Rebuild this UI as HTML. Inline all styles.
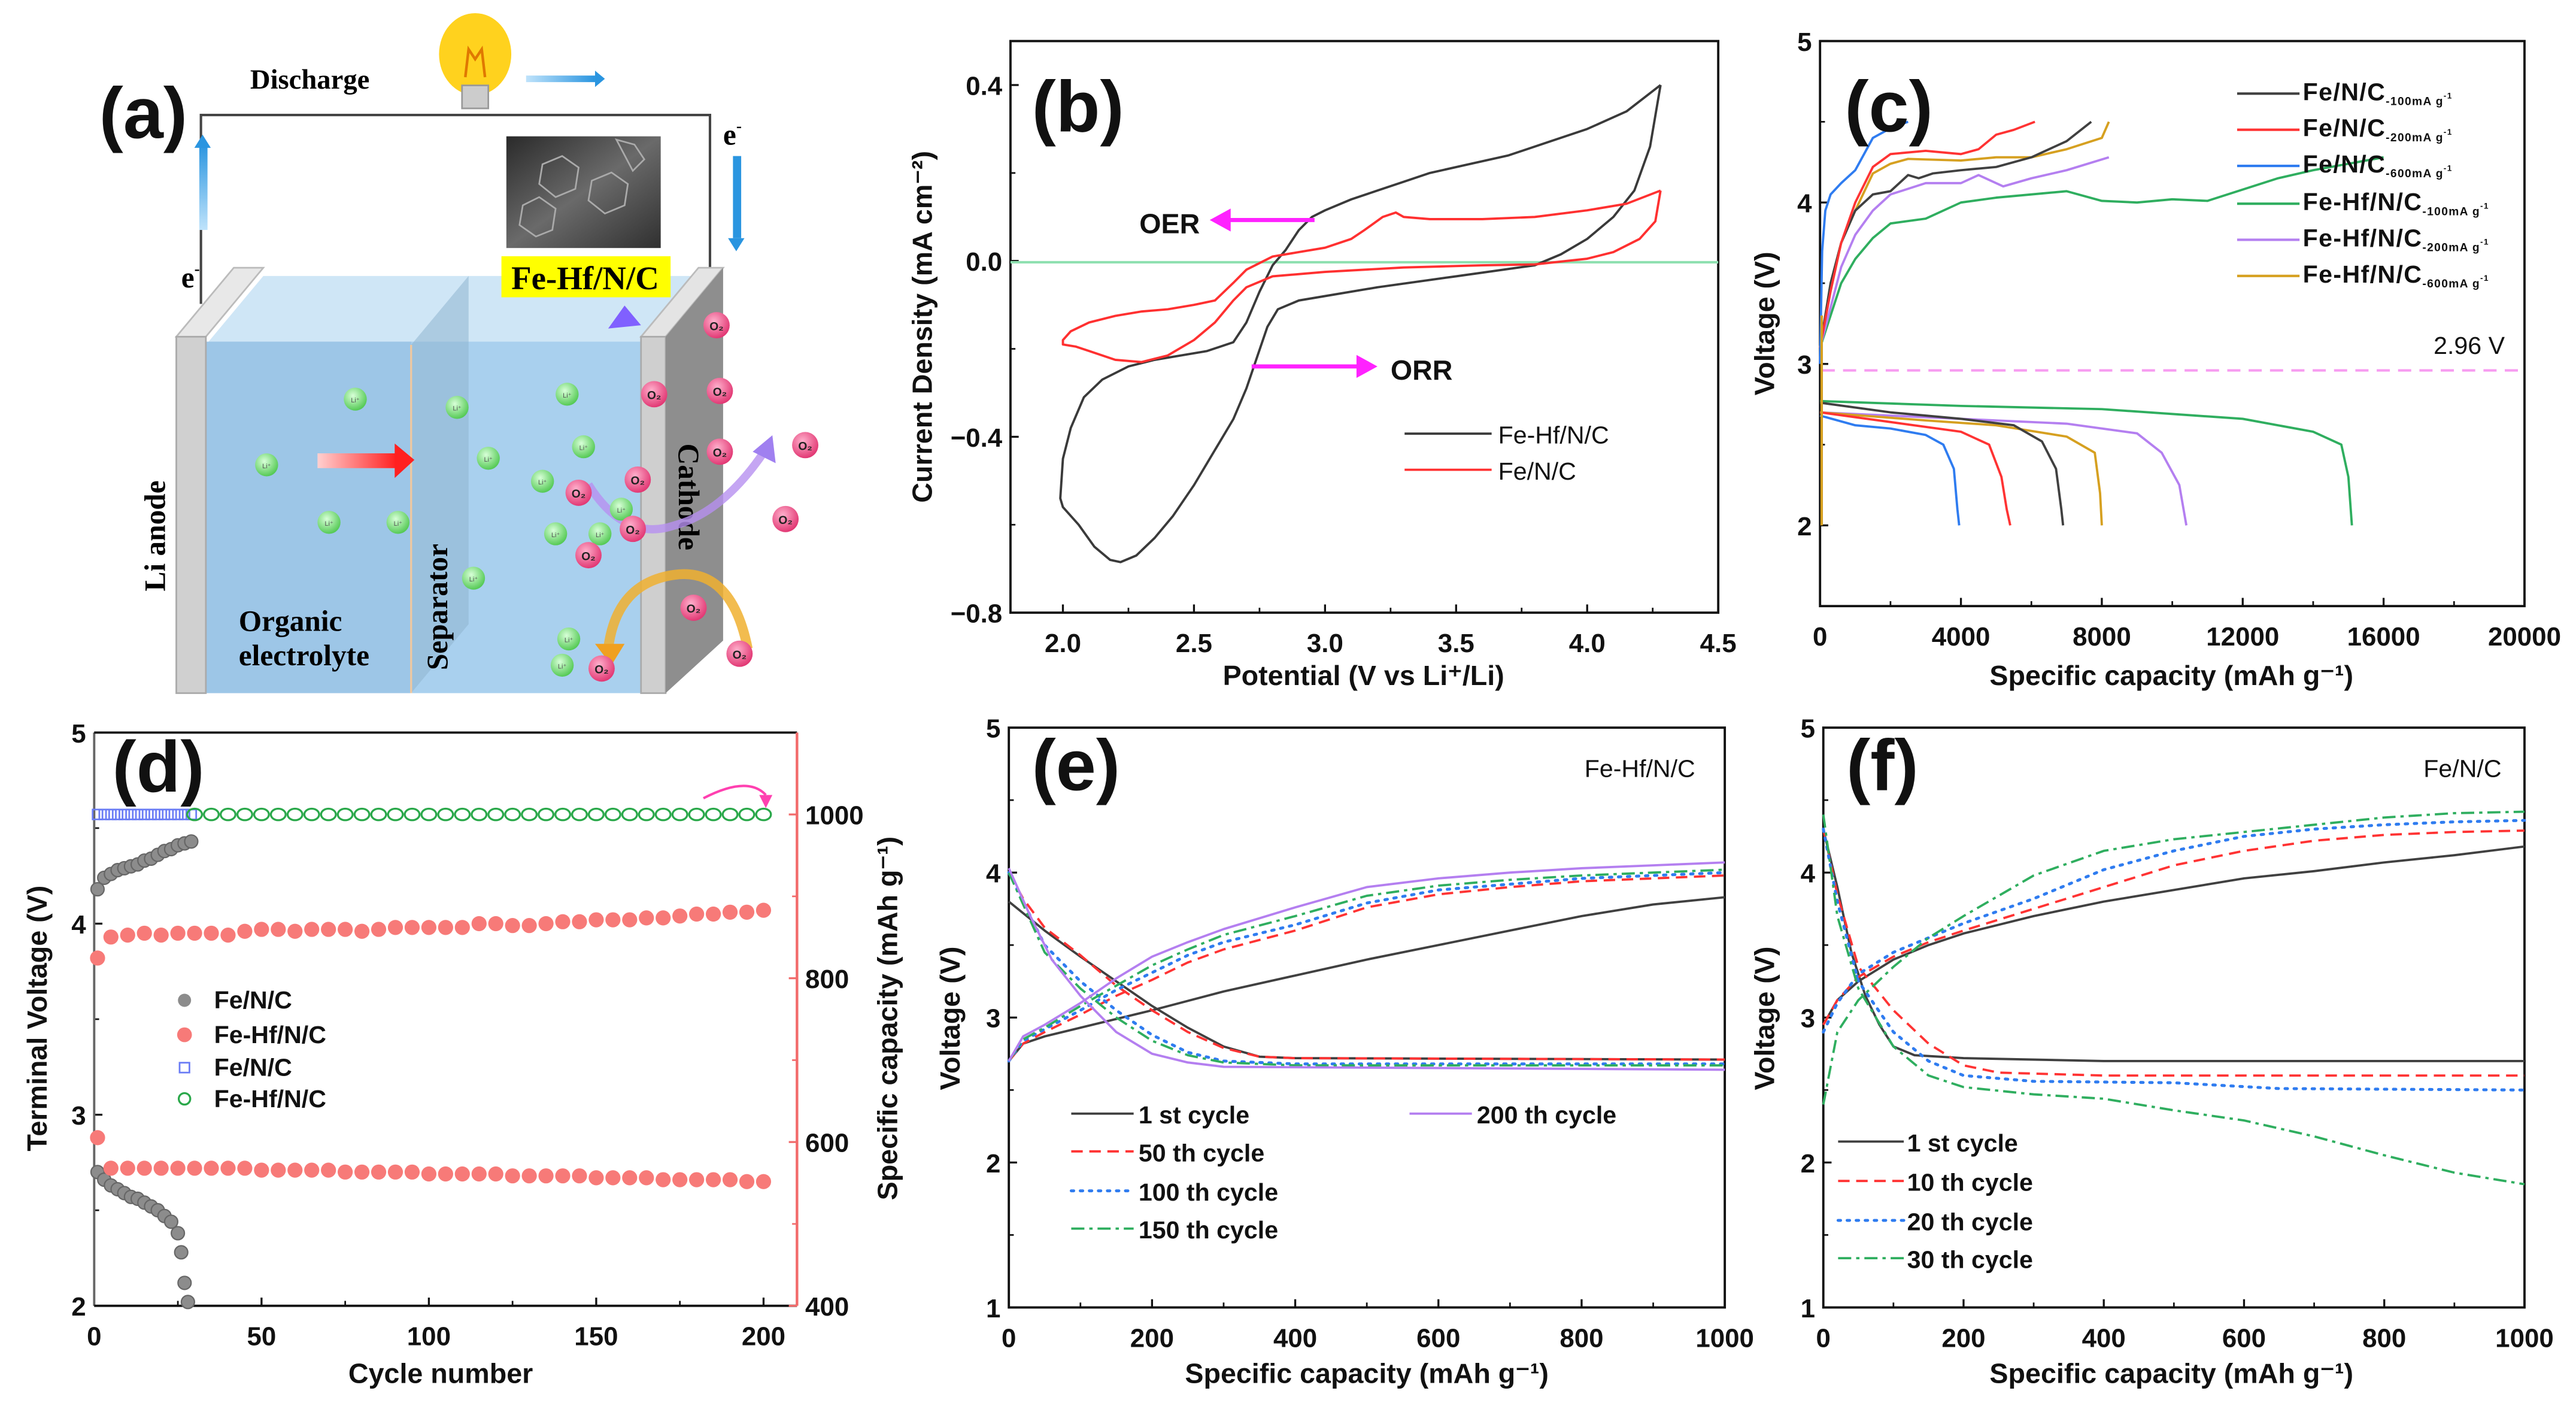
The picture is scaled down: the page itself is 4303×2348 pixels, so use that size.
<!DOCTYPE html>
<html><head><meta charset="utf-8"><title>Fe-Hf/N/C Li-O2 battery figure</title>
<style>
html,body{margin:0;padding:0;background:#fff;}
svg{display:block;font-family:"Liberation Sans",Arial,sans-serif;}
.tk{font-size:16px;font-weight:bold;fill:#111;}
.ttl{font-size:17px;font-weight:bold;fill:#111;}
.pl{font-size:44px;font-weight:bold;fill:#111;}
.lg{font-size:15px;fill:#111;}
.ser{font-family:"Liberation Serif",serif;font-weight:bold;}
</style></head>
<body>
<svg id="fig" xmlns="http://www.w3.org/2000/svg" viewBox="0 0 1568 856" width="4303" height="2348">
<defs>
<linearGradient id="blueArr" x1="0" y1="1" x2="0" y2="0"><stop offset="0" stop-color="#bfe3fb"/><stop offset="1" stop-color="#2a95e0"/></linearGradient>
<linearGradient id="blueArrH" x1="0" y1="0" x2="1" y2="0"><stop offset="0" stop-color="#bfe3fb"/><stop offset="1" stop-color="#2a95e0"/></linearGradient>
<linearGradient id="redArr" x1="0" y1="0" x2="1" y2="0"><stop offset="0" stop-color="#ffd0d0"/><stop offset="1" stop-color="#ff2020"/></linearGradient>
<radialGradient id="gball" cx="0.4" cy="0.35" r="0.7"><stop offset="0" stop-color="#d8ffd8"/><stop offset="1" stop-color="#4cc64c"/></radialGradient>
<radialGradient id="pball" cx="0.4" cy="0.35" r="0.7"><stop offset="0" stop-color="#ffb0cc"/><stop offset="1" stop-color="#e0306e"/></radialGradient>
<linearGradient id="sem" x1="0" y1="0" x2="1" y2="1"><stop offset="0" stop-color="#2a2a2a"/><stop offset="0.5" stop-color="#6a6a6a"/><stop offset="1" stop-color="#303030"/></linearGradient>
</defs>

<!-- ===== Panel (a) schematic ===== -->
<g>
  <text x="60" y="84" class="pl">(a)</text>
  <text x="152" y="54" class="ser" font-size="17">Discharge</text>
  <polyline points="122,185 122,70 432,70 432,180" fill="none" stroke="#444" stroke-width="1.5"/>
  <g>
    <ellipse cx="289" cy="33" rx="22" ry="25" fill="#ffd21e"/>
    <rect x="281" y="52" width="16" height="14" fill="#ccc" stroke="#999"/>
    <path d="M283 47 L285 30 L289 36 L293 30 L295 47" fill="none" stroke="#e07800" stroke-width="1.6"/>
  </g>
  <rect x="320" y="46" width="42" height="4" fill="url(#blueArrH)"/>
  <polygon points="362,43 368,48 362,53" fill="#2a95e0"/>
  <rect x="121" y="88" width="5" height="52" fill="url(#blueArr)"/>
  <polygon points="118,90 123,82 128,90" fill="#2a95e0"/>
  <rect x="446" y="95" width="5" height="50" fill="#2a95e0"/>
  <polygon points="443,145 448,153 453,145" fill="#2a95e0"/>
  <text x="110" y="175" class="ser" font-size="18">e<tspan font-size="10" dy="-8">-</tspan></text>
  <text x="440" y="88" class="ser" font-size="18">e<tspan font-size="10" dy="-8">-</tspan></text>
  <rect x="308" y="83" width="94" height="68" fill="url(#sem)"/>
  <g stroke="#aaa" stroke-width="1" fill="none">
    <polygon points="330,100 342,95 352,102 350,115 338,120 328,112"/>
    <polygon points="360,110 372,105 382,112 380,125 368,130 358,122"/>
    <polygon points="318,125 328,120 338,127 336,140 326,144 316,137"/>
    <polygon points="375,85 386,88 392,97 385,104"/>
  </g>
  <!-- cell -->
  <polygon points="125,210 160,168 435,168 400,210" fill="#cfe6f6"/>
  <rect x="125" y="208" width="275" height="214" fill="#a9d0ee"/>
  <rect x="125" y="208" width="125" height="214" fill="#98c2e4" opacity="0.7"/>
  <polygon points="250,210 285,168 285,380 250,422" fill="#8fb5d0" opacity="0.55"/>
  <line x1="250" y1="210" x2="250" y2="422" stroke="#f0c8a0" stroke-width="1.2"/>
  <polygon points="107,205 142,163 160,163 125,205" fill="#e8e8e8" stroke="#bbb"/>
  <rect x="107" y="205" width="18" height="217" fill="#d0d0d0" stroke="#aaa"/>
  <polygon points="390,205 425,163 440,163 405,205" fill="#e4e4e4" stroke="#bbb"/>
  <rect x="390" y="205" width="15" height="217" fill="#cfcfcf" stroke="#aaa"/>
  <polygon points="405,205 440,163 440,390 405,422" fill="#8e8e8e"/>
  <rect x="305" y="156" width="103" height="25" fill="#ffff00"/>
  <text x="356" y="176" text-anchor="middle" class="ser" font-size="20">Fe-Hf/N/C</text>
  <text transform="translate(100,360) rotate(-90)" class="ser" font-size="18">Li anode</text>
  <text transform="translate(272,408) rotate(-90)" class="ser" font-size="18">Separator</text>
  <text transform="translate(413,270) rotate(90)" class="ser" font-size="18">Cathode</text>
  <text x="145" y="384" class="ser" font-size="18">Organic</text>
  <text x="145" y="405" class="ser" font-size="18">electrolyte</text>
  <rect x="193" y="276" width="48" height="9" fill="url(#redArr)"/>
  <polygon points="240,270 252,280 240,291" fill="#ff2020"/>
  <polygon points="370,200 380,186 390,198" fill="#8060ff"/>
  <path d="M358,295 Q380,330 410,320 Q440,312 465,275" fill="none" stroke="#b690f0" stroke-width="5" opacity="0.8"/>
  <polygon points="458,275 470,265 472,282" fill="#a080f0"/>
  <path d="M455,395 Q445,345 410,350 Q375,355 370,395" fill="none" stroke="#f0b030" stroke-width="6" opacity="0.85"/>
  <polygon points="362,392 372,405 380,392" fill="#f0a020"/>
  <g id="ions"></g>
</g>

<g id="plots"></g>
</svg>

<script>
// ===================== DATA =====================
// Panel (b) CV curves: potential (V) / current density (mA cm-2)
const cvHfX = [4.28,4.15,4.0,3.85,3.7,3.55,3.4,3.3,3.2,3.1,3.0,2.95,2.9,2.85,2.8,2.75,2.7,2.65,2.55,2.45,2.35,2.25,2.15,2.08,2.03,2.0,1.99,2.0,2.06,2.12,2.18,2.22,2.28,2.35,2.42,2.5,2.58,2.65,2.7,2.74,2.78,2.82,2.9,3.0,3.2,3.5,3.8,3.9,4.0,4.1,4.18,4.24,4.28];
const cvHfY = [0.40,0.34,0.30,0.27,0.24,0.22,0.20,0.18,0.16,0.14,0.115,0.10,0.07,0.025,-0.01,-0.07,-0.14,-0.185,-0.205,-0.215,-0.225,-0.24,-0.27,-0.31,-0.38,-0.45,-0.54,-0.56,-0.6,-0.65,-0.68,-0.685,-0.67,-0.63,-0.58,-0.51,-0.43,-0.36,-0.29,-0.22,-0.15,-0.11,-0.09,-0.08,-0.06,-0.035,-0.01,0.015,0.05,0.1,0.16,0.26,0.40];
const cvFeX = [4.28,4.15,4.0,3.8,3.6,3.4,3.3,3.27,3.22,3.15,3.1,3.0,2.9,2.8,2.75,2.7,2.65,2.58,2.5,2.4,2.3,2.2,2.1,2.03,2.0,2.0,2.05,2.1,2.2,2.3,2.4,2.5,2.58,2.65,2.7,2.8,3.0,3.3,3.6,3.8,4.0,4.1,4.2,4.26,4.28];
const cvFeY = [0.16,0.13,0.115,0.10,0.095,0.095,0.10,0.11,0.10,0.07,0.05,0.03,0.02,0.01,-0.005,-0.02,-0.05,-0.09,-0.10,-0.11,-0.115,-0.125,-0.14,-0.16,-0.18,-0.19,-0.195,-0.205,-0.225,-0.23,-0.215,-0.18,-0.14,-0.09,-0.06,-0.035,-0.025,-0.015,-0.01,-0.008,0.005,0.02,0.05,0.09,0.16];

// Panel (c) charge/discharge at different current densities
const cSeriesNames = ["Fe/N/C 100","Fe/N/C 200","Fe/N/C 600","Fe-Hf/N/C 100","Fe-Hf/N/C 200","Fe-Hf/N/C 600"];
const cChargeCap = [
 [0,300,600,1000,1500,2000,2500,2800,3200,4000,5000,6000,7000,7700],
 [0,300,600,1000,1500,2000,3000,4000,4500,5000,5500,6100],
 [0,60,150,300,600,1000,1500,2000,2500],
 [0,300,600,1000,1500,2000,3000,4000,5000,6000,7000,8000,9000,10000,11000,12000,13000,14000,15000,16000],
 [0,300,600,1000,1500,2000,3000,4000,4500,5200,6000,7000,8200],
 [0,300,600,1000,1500,2000,2500,4000,5000,6000,7000,8000,8200]];
const cChargeV = [
 [3.1,3.5,3.75,3.95,4.05,4.07,4.17,4.15,4.18,4.2,4.22,4.28,4.38,4.5],
 [3.1,3.45,3.75,4.0,4.22,4.3,4.32,4.3,4.33,4.42,4.45,4.5],
 [3.0,3.7,3.95,4.05,4.12,4.2,4.4,4.46,4.5],
 [3.1,3.3,3.5,3.65,3.78,3.87,3.9,4.0,4.03,4.05,4.07,4.01,4.0,4.02,4.01,4.08,4.15,4.2,4.24,4.28],
 [3.1,3.35,3.6,3.8,3.95,4.05,4.12,4.12,4.17,4.1,4.15,4.2,4.28],
 [3.1,3.5,3.75,3.95,4.18,4.24,4.27,4.26,4.28,4.28,4.33,4.4,4.5]];
const cDisCap = [
 [0,2000,4000,5500,6300,6700,6850,6900],
 [0,2000,4000,4800,5150,5300,5400],
 [0,1000,2000,3000,3500,3800,3900,3950],
 [0,4000,8000,12000,14000,14800,15000,15100],
 [0,4000,7000,9000,9700,10200,10400],
 [0,3000,5000,7000,7800,7950,8000]];
const cDisV = [
 [2.76,2.7,2.66,2.62,2.52,2.35,2.1,2.0],
 [2.7,2.64,2.58,2.5,2.3,2.1,2.0],
 [2.68,2.62,2.6,2.56,2.5,2.35,2.1,2.0],
 [2.77,2.74,2.72,2.66,2.58,2.5,2.3,2.0],
 [2.7,2.66,2.63,2.57,2.45,2.25,2.0],
 [2.7,2.65,2.62,2.55,2.45,2.2,2.0]];
const cRefVoltage = 2.96;

// Panel (d) cycling performance
const dFeChargeCycles = [1,3,5,7,9,11,13,15,17,19,21,23,25,27,29];
const dFeChargeV = [4.18,4.24,4.26,4.28,4.29,4.30,4.31,4.33,4.34,4.36,4.38,4.39,4.41,4.42,4.43];
const dFeDisCycles = [1,3,5,7,9,11,13,15,17,19,21,23,25,26,27,28];
const dFeDisV = [2.70,2.66,2.63,2.61,2.59,2.57,2.56,2.54,2.52,2.50,2.47,2.44,2.38,2.28,2.12,2.02];
const dHfCycles = [1,5,10,15,20,25,30,35,40,45,50,55,60,65,70,75,80,85,90,95,100,105,110,115,120,125,130,135,140,145,150,155,160,165,170,175,180,185,190,195,200];
const dHfChargeV = [3.82,3.93,3.94,3.95,3.94,3.95,3.95,3.95,3.94,3.96,3.97,3.97,3.96,3.97,3.97,3.97,3.96,3.97,3.98,3.98,3.98,3.98,3.98,4.0,4.0,3.99,3.99,4.0,4.01,4.01,4.02,4.02,4.02,4.03,4.03,4.04,4.05,4.05,4.06,4.06,4.07];
const dHfDisV = [2.88,2.72,2.72,2.72,2.72,2.72,2.72,2.72,2.72,2.72,2.71,2.71,2.71,2.71,2.71,2.70,2.70,2.70,2.70,2.70,2.69,2.69,2.69,2.69,2.69,2.68,2.68,2.68,2.68,2.68,2.67,2.67,2.67,2.67,2.66,2.66,2.66,2.66,2.66,2.65,2.65];
const dFeCapCycles = [1,3,5,7,9,11,13,15,17,19,21,23,25,27,29];
const dFeCap = [1000,1000,1000,1000,1000,1000,1000,1000,1000,1000,1000,1000,1000,1000,1000];
const dHfCapCycles = [30,35,40,45,50,55,60,65,70,75,80,85,90,95,100,105,110,115,120,125,130,135,140,145,150,155,160,165,170,175,180,185,190,195,200];
const dHfCap = [1000,1000,1000,1000,1000,1000,1000,1000,1000,1000,1000,1000,1000,1000,1000,1000,1000,1000,1000,1000,1000,1000,1000,1000,1000,1000,1000,1000,1000,1000,1000,1000,1000,1000,1000];

// Panel (e) Fe-Hf/N/C cycles
const eLabels = ["1 st cycle","50 th cycle","100 th cycle","150 th cycle","200 th cycle"];
const eChgCap = [
 [0,20,50,100,200,300,400,500,600,700,800,900,1000],
 [0,20,50,100,150,200,250,300,400,500,600,700,800,900,1000],
 [0,20,50,100,150,200,250,300,400,500,600,700,800,900,1000],
 [0,20,50,100,150,200,250,300,400,500,600,700,800,900,1000],
 [0,20,50,100,150,200,250,300,400,500,600,700,800,900,1000]];
const eChgV = [
 [2.7,2.82,2.87,2.93,3.05,3.18,3.29,3.4,3.5,3.6,3.7,3.78,3.83],
 [2.7,2.82,2.9,3.02,3.15,3.26,3.38,3.47,3.6,3.76,3.85,3.9,3.94,3.96,3.98],
 [2.7,2.84,2.92,3.05,3.19,3.31,3.43,3.52,3.64,3.79,3.88,3.92,3.96,3.98,4.0],
 [2.7,2.85,2.93,3.08,3.22,3.36,3.47,3.57,3.7,3.84,3.91,3.95,3.98,4.0,4.02],
 [2.7,2.87,2.95,3.1,3.27,3.42,3.52,3.61,3.76,3.9,3.96,4.0,4.03,4.05,4.07]];
const eDisCap = [
 [0,50,100,150,200,250,300,350,400,1000],
 [0,20,50,100,150,200,250,300,350,400,1000],
 [0,50,100,150,200,250,300,400,1000],
 [0,50,100,150,200,250,300,400,1000],
 [0,30,60,100,150,200,250,300,1000]];
const eDisV = [
 [3.8,3.6,3.42,3.25,3.08,2.93,2.8,2.73,2.72,2.71],
 [4.0,3.82,3.62,3.43,3.22,3.05,2.9,2.79,2.73,2.72,2.71],
 [4.0,3.5,3.25,3.05,2.88,2.76,2.7,2.68,2.68],
 [4.0,3.45,3.2,3.0,2.84,2.74,2.69,2.67,2.67],
 [4.03,3.7,3.4,3.15,2.9,2.75,2.69,2.66,2.64]];

// Panel (f) Fe/N/C cycles
const fLabels = ["1 st cycle","10 th cycle","20 th cycle","30 th cycle"];
const fChgCap = [
 [0,20,50,100,150,200,300,400,500,600,700,800,900,1000],
 [0,20,50,100,150,200,300,400,500,600,700,800,900,1000],
 [0,20,50,100,150,200,300,400,500,600,700,800,900,1000],
 [0,20,50,100,150,200,300,400,500,600,700,800,900,1000]];
const fChgV = [
 [2.95,3.12,3.25,3.4,3.5,3.58,3.7,3.8,3.88,3.96,4.01,4.07,4.12,4.18],
 [2.95,3.12,3.28,3.42,3.52,3.6,3.75,3.9,4.05,4.15,4.22,4.26,4.28,4.29],
 [2.9,3.1,3.3,3.45,3.55,3.65,3.82,4.02,4.15,4.25,4.3,4.33,4.35,4.36],
 [2.4,2.9,3.12,3.35,3.55,3.7,3.98,4.15,4.23,4.28,4.33,4.38,4.41,4.42]];
const fDisCap = [
 [0,20,40,60,80,100,130,200,400,1000],
 [0,20,50,100,150,200,250,400,1000],
 [0,20,50,100,150,200,300,500,650,1000],
 [0,20,50,100,150,200,300,400,500,600,700,800,900,1000]];
const fDisV = [
 [4.3,3.9,3.45,3.15,2.95,2.8,2.74,2.72,2.7,2.7],
 [4.3,3.85,3.35,3.05,2.82,2.67,2.62,2.6,2.6],
 [4.3,3.8,3.25,2.9,2.7,2.6,2.56,2.55,2.51,2.5],
 [4.4,3.7,3.2,2.8,2.6,2.52,2.47,2.44,2.36,2.29,2.18,2.05,1.93,1.85]];

// ===================== DRAWING =====================
const NS = 'http://www.w3.org/2000/svg';
const root = document.getElementById('plots');

function mk(tag, attrs, parent, name) {
  const e = document.createElementNS(NS, tag);
  for (const k in attrs) e.setAttribute(k, attrs[k]);
  
  
  (parent || root).appendChild(e);
  return e;
}
function txt(parent, x, y, s, cls, name, extra) {
  const a = Object.assign({x: x, y: y, class: cls}, extra || {});
  const t = mk('text', a, parent, name);
  t.textContent = s;
  return t;
}

function makeAxes(p) {
  const g = mk('g', {}, root, p.id);
  const sx = v => p.L + (v - p.xd[0]) / (p.xd[1] - p.xd[0]) * (p.R - p.L);
  const sy = v => p.B - (v - p.yd[0]) / (p.yd[1] - p.yd[0]) * (p.B - p.T);
  if (!p.customFrame) {
    mk('rect', {x: p.L, y: p.T, width: p.R - p.L, height: p.B - p.T, fill: 'none', stroke: '#111', 'stroke-width': 1.4}, g, 'plot-frame');
  }
  p.xt.forEach(v => {
    mk('line', {x1: sx(v), x2: sx(v), y1: p.B, y2: p.B - 5, stroke: '#111', 'stroke-width': 1.2}, g, 'x-tick');
    txt(g, sx(v), p.B + 24, p.xfmt(v), 'tk', 'x-tick-label', {'text-anchor': 'middle'});
  });
  (p.xminor || []).forEach(v => {
    mk('line', {x1: sx(v), x2: sx(v), y1: p.B, y2: p.B - 3, stroke: '#111', 'stroke-width': 1}, g, 'x-minor-tick');
  });
  p.yt.forEach(v => {
    mk('line', {x1: p.L, x2: p.L + 5, y1: sy(v), y2: sy(v), stroke: '#111', 'stroke-width': 1.2}, g, 'y-tick');
    txt(g, p.L - 5, sy(v) + 6, p.yfmt(v), 'tk', 'y-tick-label', {'text-anchor': 'end', fill: p.ycol || '#111'});
  });
  (p.yminor || []).forEach(v => {
    mk('line', {x1: p.L, x2: p.L + 3, y1: sy(v), y2: sy(v), stroke: '#111', 'stroke-width': 1}, g, 'y-minor-tick');
  });
  return {g, sx, sy};
}
function curve(ax, xs, ys, style, name) {
  let d = '';
  xs.forEach((x, i) => { d += (i ? 'L' : 'M') + ax.sx(x).toFixed(2) + ',' + ax.sy(ys[i]).toFixed(2); });
  const a = Object.assign({d: d, fill: 'none', 'stroke-width': 1.4, 'stroke-linejoin': 'round'}, style);
  return mk('path', a, ax.g, name);
}
const SOLID = {};
const DASH = {'stroke-dasharray': '7,4'};
const DOT = {'stroke-dasharray': '1.5,4', 'stroke-linecap': 'round', 'stroke-width': 1.8};
const DASHDOT = {'stroke-dasharray': '8,3,2,3'};

// ---------- Panel (b) ----------
(function () {
  const ax = makeAxes({id: 'panel-b-cv', L: 615, R: 1046, T: 25, B: 373, xd: [1.8, 4.5], yd: [-0.8, 0.5],
    xt: [2.0, 2.5, 3.0, 3.5, 4.0, 4.5], xminor: [2.25, 2.75, 3.25, 3.75, 4.25],
    yt: [-0.8, -0.4, 0.0, 0.4], yminor: [-0.6, -0.2, 0.2],
    xfmt: v => v.toFixed(1), yfmt: v => (v < 0 ? '\u2212' : '') + Math.abs(v).toFixed(1)});
  mk('line', {x1: 615, x2: 1046, y1: ax.sy(-0.003), y2: ax.sy(-0.003), stroke: '#8fe0b0', 'stroke-width': 1.5}, ax.g, 'zero-current-line');
  curve(ax, cvHfX, cvHfY, {stroke: '#3a3a3a'}, 'cv-curve-fe-hf-n-c');
  curve(ax, cvFeX, cvFeY, {stroke: '#ff3030'}, 'cv-curve-fe-n-c');
  txt(ax.g, 628, 80, '(b)', 'pl', 'panel-label-b');
  mk('line', {x1: ax.sx(2.96), x2: ax.sx(2.62), y1: ax.sy(0.093), y2: ax.sy(0.093), stroke: '#ff22ff', 'stroke-width': 2.5}, ax.g, 'oer-arrow-shaft');
  mk('polygon', {points: `${ax.sx(2.56)},${ax.sy(0.093)} ${ax.sx(2.64)},${ax.sy(0.093) - 7} ${ax.sx(2.64)},${ax.sy(0.093) + 7}`, fill: '#ff22ff'}, ax.g, 'oer-arrowhead');
  txt(ax.g, ax.sx(2.56) - 6, ax.sy(0.093) + 8, 'OER', 'ttl', 'oer-label', {'text-anchor': 'end', 'font-size': 20, 'font-weight': 'bold'});
  mk('line', {x1: ax.sx(2.72), x2: ax.sx(3.14), y1: ax.sy(-0.24), y2: ax.sy(-0.24), stroke: '#ff22ff', 'stroke-width': 2.5}, ax.g, 'orr-arrow-shaft');
  mk('polygon', {points: `${ax.sx(3.2)},${ax.sy(-0.24)} ${ax.sx(3.12)},${ax.sy(-0.24) - 7} ${ax.sx(3.12)},${ax.sy(-0.24) + 7}`, fill: '#ff22ff'}, ax.g, 'orr-arrowhead');
  txt(ax.g, ax.sx(3.25), ax.sy(-0.24) + 8, 'ORR', 'ttl', 'orr-label', {'font-size': 20});
  mk('line', {x1: 855, x2: 908, y1: 264, y2: 264, stroke: '#3a3a3a', 'stroke-width': 1.4}, ax.g, 'legend-line-fe-hf-n-c');
  txt(ax.g, 912, 270, 'Fe-Hf/N/C', 'lg', 'legend-label-fe-hf-n-c');
  mk('line', {x1: 855, x2: 908, y1: 286, y2: 286, stroke: '#ff3030', 'stroke-width': 1.4}, ax.g, 'legend-line-fe-n-c');
  txt(ax.g, 912, 292, 'Fe/N/C', 'lg', 'legend-label-fe-n-c');
  txt(ax.g, 0, 0, 'Current Density (mA cm\u207B\u00B2)', 'ttl', 'y-axis-title-b', {transform: 'translate(567,199) rotate(-90)', 'text-anchor': 'middle'});
  txt(ax.g, 830, 417, 'Potential (V vs Li\u207A/Li)', 'ttl', 'x-axis-title-b', {'text-anchor': 'middle'});
})();

// ---------- Panel (c) ----------
(function () {
  const ax = makeAxes({id: 'panel-c-rate', L: 1108, R: 1537, T: 25, B: 369, xd: [0, 20000], yd: [1.5, 5],
    xt: [0, 4000, 8000, 12000, 16000, 20000], xminor: [2000, 6000, 10000, 14000, 18000],
    yt: [2, 3, 4, 5], yminor: [2.5, 3.5, 4.5], xfmt: v => String(v), yfmt: v => String(v)});
  mk('line', {x1: 1109, x2: 1537, y1: ax.sy(cRefVoltage), y2: ax.sy(cRefVoltage), stroke: '#f79cf0', 'stroke-width': 1.5, 'stroke-dasharray': '8,5'}, ax.g, 'reference-voltage-line');
  txt(ax.g, 1525, ax.sy(cRefVoltage) - 10, cRefVoltage.toFixed(2) + ' V', 'lg', 'reference-voltage-label', {'text-anchor': 'end', 'font-size': 15});
  const cols = ['#404040', '#ff3333', '#2f7cf0', '#2fae5f', '#b47ff0', '#d6a020'];
  const order = [3, 4, 5, 0, 1, 2];
  order.forEach(i => {
    curve(ax, cChargeCap[i], cChargeV[i], {stroke: cols[i]}, 'charge-curve-' + (i + 1));
    curve(ax, cDisCap[i], cDisV[i], {stroke: cols[i]}, 'discharge-curve-' + (i + 1));
  });
  mk('line', {x1: 1109, x2: 1109, y1: ax.sy(2.0), y2: ax.sy(3.3), stroke: '#d6a020', 'stroke-width': 1.5}, ax.g, 'initial-voltage-rise');
  txt(ax.g, 1123, 80, '(c)', 'pl', 'panel-label-c');
  const base = ['Fe/N/C', 'Fe/N/C', 'Fe/N/C', 'Fe-Hf/N/C', 'Fe-Hf/N/C', 'Fe-Hf/N/C'];
  const rate = ['-100mA g', '-200mA g', '-600mA g', '-100mA g', '-200mA g', '-600mA g'];
  const ly = [57, 79, 101, 124, 146, 168];
  for (let i = 0; i < 6; i++) {
    mk('line', {x1: 1362, x2: 1400, y1: ly[i], y2: ly[i], stroke: cols[i], 'stroke-width': 1.5}, ax.g, 'legend-line-c');
    const t = txt(ax.g, 1402, ly[i] + 4, base[i], 'lg', 'legend-label-c', {'font-size': 12, 'font-weight': 'bold', 'letter-spacing': '0.5'});
    const s = mk('tspan', {'font-size': 7, dy: 3}, t, 'legend-subscript');
    s.textContent = rate[i];
    const s2 = mk('tspan', {'font-size': 5, dy: -4}, t, 'legend-superscript');
    s2.textContent = '-1';
  }
  txt(ax.g, 0, 0, 'Voltage (V)', 'ttl', 'y-axis-title-c', {transform: 'translate(1080,197) rotate(-90)', 'text-anchor': 'middle'});
  txt(ax.g, 1322, 417, 'Specific capacity (mAh g\u207B\u00B9)', 'ttl', 'x-axis-title-c', {'text-anchor': 'middle'});
})();

// ---------- Panel (d) ----------
(function () {
  const L = 57, R = 485, T = 446, B = 795;
  const ax = makeAxes({id: 'panel-d-cycling', L, R, T, B, xd: [0, 210], yd: [2, 5], customFrame: true,
    xt: [0, 50, 100, 150, 200], xminor: [25, 75, 125, 175], yt: [2, 3, 4, 5], yminor: [2.5, 3.5, 4.5],
    xfmt: v => String(v), yfmt: v => String(v), ycol: '#8a8a8a'});
  mk('line', {x1: L, x2: L, y1: T, y2: B, stroke: '#666', 'stroke-width': 1.4}, ax.g, 'left-axis-line');
  mk('line', {x1: L, x2: R, y1: B, y2: B, stroke: '#111', 'stroke-width': 1.4}, ax.g, 'bottom-axis-line');
  mk('line', {x1: L, x2: R, y1: T, y2: T, stroke: '#111', 'stroke-width': 1.4}, ax.g, 'top-axis-line');
  mk('line', {x1: R, x2: R, y1: T, y2: B, stroke: '#f26b6b', 'stroke-width': 1.6}, ax.g, 'right-axis-line');
  const sy2 = v => B - (v - 400) / 700 * (B - T);
  [400, 600, 800, 1000].forEach(v => {
    mk('line', {x1: R, x2: R - 5, y1: sy2(v), y2: sy2(v), stroke: '#f26b6b', 'stroke-width': 1.2}, ax.g, 'right-y-tick');
    txt(ax.g, R + 5, sy2(v) + 6, String(v), 'tk', 'right-y-tick-label', {fill: '#f26b6b'});
  });
  [500, 700, 900].forEach(v => {
    mk('line', {x1: R, x2: R - 3, y1: sy2(v), y2: sy2(v), stroke: '#f26b6b', 'stroke-width': 1}, ax.g, 'right-y-minor-tick');
  });
  dFeCapCycles.forEach((c, i) => {
    mk('rect', {x: ax.sx(c) - 3, y: sy2(dFeCap[i]) - 3, width: 6, height: 6, fill: 'none', stroke: '#6a7cf5', 'stroke-width': 1}, ax.g, 'capacity-marker-fe-n-c');
  });
  dHfCapCycles.forEach((c, i) => {
    mk('ellipse', {cx: ax.sx(c), cy: sy2(dHfCap[i]), rx: 4.5, ry: 3.5, fill: 'none', stroke: '#2aa84a', 'stroke-width': 1.2}, ax.g, 'capacity-marker-fe-hf-n-c');
  });
  dFeChargeCycles.forEach((c, i) => {
    mk('circle', {cx: ax.sx(c), cy: ax.sy(dFeChargeV[i]), r: 4, fill: '#8c8c8c', stroke: '#666', 'stroke-width': 0.8}, ax.g, 'charge-voltage-marker-fe-n-c');
  });
  dFeDisCycles.forEach((c, i) => {
    mk('circle', {cx: ax.sx(c), cy: ax.sy(dFeDisV[i]), r: 4, fill: '#8c8c8c', stroke: '#666', 'stroke-width': 0.8}, ax.g, 'discharge-voltage-marker-fe-n-c');
  });
  dHfCycles.forEach((c, i) => {
    mk('circle', {cx: ax.sx(c), cy: ax.sy(dHfChargeV[i]), r: 4.6, fill: '#f77a78'}, ax.g, 'charge-voltage-marker-fe-hf-n-c');
    mk('circle', {cx: ax.sx(c), cy: ax.sy(dHfDisV[i]), r: 4.6, fill: '#f77a78'}, ax.g, 'discharge-voltage-marker-fe-hf-n-c');
  });
  mk('path', {d: 'M428,486 Q455,472 466,484', fill: 'none', stroke: '#ff40b0', 'stroke-width': 1.5}, ax.g, 'axis-pointer-arrow');
  mk('polygon', {points: '462,484 470,484 466,492', fill: '#ff40b0'}, ax.g, 'axis-pointer-arrowhead');
  txt(ax.g, 68, 482, '(d)', 'pl', 'panel-label-d');
  const leg = [['Fe/N/C', 'gray'], ['Fe-Hf/N/C', 'red'], ['Fe/N/C', 'sq'], ['Fe-Hf/N/C', 'oc']];
  const ly = [609, 630, 650, 669];
  leg.forEach((l, i) => {
    if (l[1] === 'gray') mk('circle', {cx: 112, cy: ly[i], r: 4, fill: '#8c8c8c'}, ax.g, 'legend-marker-d');
    if (l[1] === 'red') mk('circle', {cx: 112, cy: ly[i], r: 4.5, fill: '#f77a78'}, ax.g, 'legend-marker-d');
    if (l[1] === 'sq') mk('rect', {x: 109, y: ly[i] - 3, width: 6, height: 6, fill: 'none', stroke: '#6a7cf5'}, ax.g, 'legend-marker-d');
    if (l[1] === 'oc') mk('circle', {cx: 112, cy: ly[i], r: 3.5, fill: 'none', stroke: '#2aa84a', 'stroke-width': 1.2}, ax.g, 'legend-marker-d');
    txt(ax.g, 130, ly[i] + 5, l[0], 'lg', 'legend-label-d', {'font-size': 13, 'font-weight': 'bold'});
  });
  txt(ax.g, 0, 0, 'Terminal Voltage (V)', 'ttl', 'y-axis-title-d-left', {transform: 'translate(28,620) rotate(-90)', 'text-anchor': 'middle'});
  txt(ax.g, 0, 0, 'Specific capacity (mAh g\u207B\u00B9)', 'ttl', 'y-axis-title-d-right', {transform: 'translate(546,620) rotate(-90)', 'text-anchor': 'middle'});
  txt(ax.g, 268, 842, 'Cycle number', 'ttl', 'x-axis-title-d', {'text-anchor': 'middle', 'font-size': 19});
})();

// ---------- Panel (e) ----------
(function () {
  const ax = makeAxes({id: 'panel-e-fe-hf-cycles', L: 614, R: 1050, T: 443, B: 796, xd: [0, 1000], yd: [1, 5],
    xt: [0, 200, 400, 600, 800, 1000], xminor: [100, 300, 500, 700, 900], yt: [1, 2, 3, 4, 5], yminor: [1.5, 2.5, 3.5, 4.5],
    xfmt: v => String(v), yfmt: v => String(v)});
  const cols = ['#404040', '#ff3333', '#2f7cf0', '#2fae5f', '#b47ff0'];
  const sty = [SOLID, DASH, DOT, DASHDOT, SOLID];
  for (let i = 0; i < 5; i++) {
    curve(ax, eChgCap[i], eChgV[i], Object.assign({stroke: cols[i]}, sty[i]), 'charge-curve-e-' + eLabels[i].replace(/ /g, '-'));
    curve(ax, eDisCap[i], eDisV[i], Object.assign({stroke: cols[i]}, sty[i]), 'discharge-curve-e-' + eLabels[i].replace(/ /g, '-'));
  }
  txt(ax.g, 628, 481, '(e)', 'pl', 'panel-label-e');
  txt(ax.g, 1032, 473, 'Fe-Hf/N/C', 'lg', 'sample-label-e', {'text-anchor': 'end', 'font-size': 14});
  const lx = [652, 652, 652, 652, 858], ly = [678, 701, 725, 748, 678];
  for (let i = 0; i < 5; i++) {
    mk('line', Object.assign({x1: lx[i], x2: lx[i] + 38, y1: ly[i], y2: ly[i], stroke: cols[i], 'stroke-width': 1.4}, sty[i]), ax.g, 'legend-line-e');
    txt(ax.g, lx[i] + 41, ly[i] + 6, eLabels[i], 'lg', 'legend-label-e', {'font-size': 16, 'font-weight': 'bold', fill: '#222'});
  }
  txt(ax.g, 0, 0, 'Voltage (V)', 'ttl', 'y-axis-title-e', {transform: 'translate(584,620) rotate(-90)', 'text-anchor': 'middle'});
  txt(ax.g, 832, 842, 'Specific capacity (mAh g\u207B\u00B9)', 'ttl', 'x-axis-title-e', {'text-anchor': 'middle'});
})();

// ---------- Panel (f) ----------
(function () {
  const ax = makeAxes({id: 'panel-f-fe-cycles', L: 1110, R: 1537, T: 443, B: 796, xd: [0, 1000], yd: [1, 5],
    xt: [0, 200, 400, 600, 800, 1000], xminor: [100, 300, 500, 700, 900], yt: [1, 2, 3, 4, 5], yminor: [1.5, 2.5, 3.5, 4.5],
    xfmt: v => String(v), yfmt: v => String(v)});
  const cols = ['#404040', '#ff3333', '#2f7cf0', '#2fae5f'];
  const sty = [SOLID, DASH, DOT, DASHDOT];
  for (let i = 0; i < 4; i++) {
    curve(ax, fChgCap[i], fChgV[i], Object.assign({stroke: cols[i]}, sty[i]), 'charge-curve-f-' + fLabels[i].replace(/ /g, '-'));
    curve(ax, fDisCap[i], fDisV[i], Object.assign({stroke: cols[i]}, sty[i]), 'discharge-curve-f-' + fLabels[i].replace(/ /g, '-'));
  }
  txt(ax.g, 1124, 481, '(f)', 'pl', 'panel-label-f');
  txt(ax.g, 1523, 473, 'Fe/N/C', 'lg', 'sample-label-f', {'text-anchor': 'end', 'font-size': 14});
  const ly = [695, 719, 743, 766];
  for (let i = 0; i < 4; i++) {
    mk('line', Object.assign({x1: 1119, x2: 1159, y1: ly[i], y2: ly[i], stroke: cols[i], 'stroke-width': 1.4}, sty[i]), ax.g, 'legend-line-f');
    txt(ax.g, 1161, ly[i] + 6, fLabels[i], 'lg', 'legend-label-f', {'font-size': 16, 'font-weight': 'bold', fill: '#222'});
  }
  txt(ax.g, 0, 0, 'Voltage (V)', 'ttl', 'y-axis-title-f', {transform: 'translate(1080,620) rotate(-90)', 'text-anchor': 'middle'});
  txt(ax.g, 1322, 842, 'Specific capacity (mAh g\u207B\u00B9)', 'ttl', 'x-axis-title-f', {'text-anchor': 'middle'});
})();

// ---------- ions in schematic ----------
(function () {
  const g = document.getElementById('ions');
  const li = [[216,243],[162,283],[200,318],[242,318],[297,279],[278,248],[330,293],[338,325],[288,352],[345,240],[355,272],[365,325],[378,310],[346,389],[342,405]];
  const o2 = [[352,300],[358,338],[385,322],[398,240],[438,238],[438,275],[436,198],[490,271],[478,316],[422,370],[366,407],[450,398],[388,292]];
  li.forEach(p => {
    mk('circle', {cx: p[0], cy: p[1], r: 7, fill: 'url(#gball)'}, g, 'li-ion');
    const t = mk('text', {x: p[0], y: p[1] + 2, 'text-anchor': 'middle', 'font-size': 4, fill: '#555'}, g, 'li-ion-label');
    t.textContent = 'Li\u207A';
  });
  o2.forEach(p => {
    mk('circle', {cx: p[0], cy: p[1], r: 8, fill: 'url(#pball)'}, g, 'oxygen-molecule');
    const t = mk('text', {x: p[0], y: p[1] + 3, 'text-anchor': 'middle', 'font-size': 7, 'font-weight': 'bold', fill: '#222'}, g, 'oxygen-label');
    t.textContent = 'O\u2082';
  });
})();
</script>
</body></html>
